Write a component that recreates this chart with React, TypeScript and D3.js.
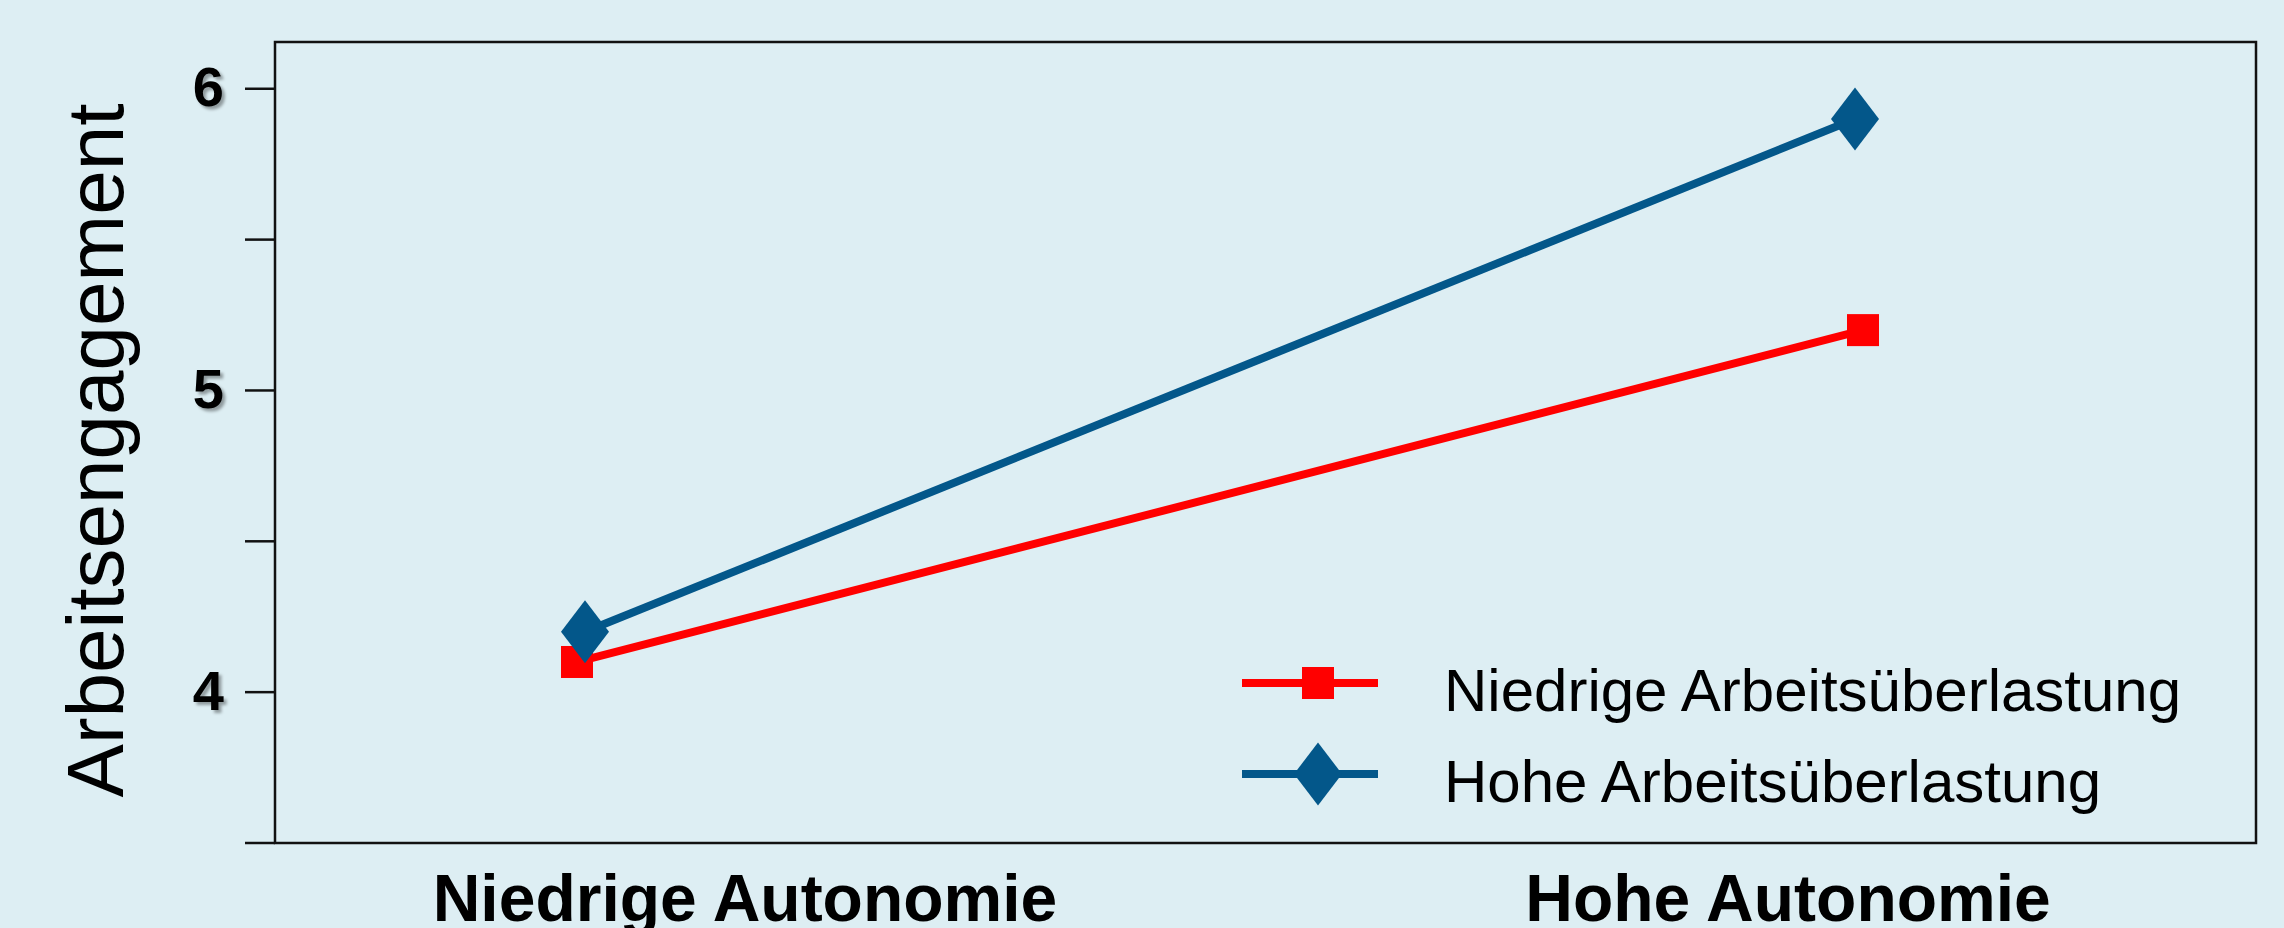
import React from 'react';
import * as d3 from 'd3';

// categories on the x axis and the two series
const categories = ['Niedrige Autonomie', 'Hohe Autonomie'];
const seriesNames = ['Niedrige Arbeitsüberlastung', 'Hohe Arbeitsüberlastung'];
const lowOverload = [4.1, 5.2];
const highOverload = [4.2, 5.9];
const yTicks = [3.5, 4, 4.5, 5, 5.5, 6];
const yTickLabels = ['', '4', '', '5', '', '6'];
const yTitle = 'Arbeitsengagement';

const W = 2284;
const H = 928;
const plot = { left: 275, top: 42, right: 2256, bottom: 843 };
const BG = '#ddeef3';
const RED = '#ff0000';
const BLUE = '#03578a';
const FONT = '"Liberation Sans", Arial, Helvetica, sans-serif';

const series = [
  { name: seriesNames[0], values: lowOverload, color: RED, marker: 'square', spread: 4 },
  { name: seriesNames[1], values: highOverload, color: BLUE, marker: 'diamond', spread: -4 },
];

const Marker: React.FC<{ kind: string; x: number; y: number; color: string }> = ({ kind, x, y, color }) => {
  if (kind === 'square') {
    return <rect x={x - 16} y={y - 16} width={32} height={32} fill={color} />;
  }
  const w = 24;
  const h = 31.5;
  return (
    <path
      d={`M${x},${y - h}L${x + w},${y}L${x},${y + h}L${x - w},${y}Z`}
      fill={color}
    />
  );
};

export default function App() {
  const y = d3.scaleLinear().domain([3.5, 6.155]).range([plot.bottom, plot.top]);
  // the points sit at ~15% / ~80% of the frame width
  const x = d3.scalePoint<string>().domain(categories).range([581, 1859]);
  // the category labels are centred a bit differently from the points
  const xLabel = d3.scalePoint<string>().domain(categories).range([745, 1788]);

  const line = d3
    .line<[number, number]>()
    .x((d) => d[0])
    .y((d) => d[1]);

  const legendX = 1318;
  const legendRows = [683, 774];

  return (
    <svg
      width={W}
      height={H}
      style={{ position: 'absolute', left: 0, top: 0, display: 'block' }}
      fontFamily={FONT}
    >
      <defs>
        <filter id="shadow" x="-30%" y="-30%" width="160%" height="160%">
          <feDropShadow dx={3} dy={3} stdDeviation={1.5} floodColor="#000" floodOpacity={0.35} />
        </filter>
      </defs>
      <rect width={W} height={H} fill={BG} />

      {/* frame */}
      <rect
        x={plot.left}
        y={plot.top}
        width={plot.right - plot.left}
        height={plot.bottom - plot.top}
        fill="none"
        stroke="#111"
        strokeWidth={2.5}
      />

      {/* y ticks and labels */}
      {yTicks.map((t, i) => (
        <g key={t}>
          <line x1={plot.left - 30} x2={plot.left} y1={y(t)} y2={y(t)} stroke="#111" strokeWidth={2.5} />
          {yTickLabels[i] && (
            <text
              x={224}
              y={y(t) - 2}
              textAnchor="end"
              dominantBaseline="central"
              fontSize={56}
              fontWeight="bold"
              fill="#000"
              filter="url(#shadow)"
            >
              {yTickLabels[i]}
            </text>
          )}
        </g>
      ))}

      {/* y title */}
      <text
        transform={`translate(123,${(plot.top + plot.bottom) / 2 + 8}) rotate(-90)`}
        textAnchor="middle"
        fontSize={80}
        fill="#000"
      >
        {yTitle}
      </text>

      {/* x category labels */}
      {categories.map((c) => (
        <text key={c} x={xLabel(c)} y={921} textAnchor="middle" fontSize={66} fontWeight="bold" fill="#000">
          {c}
        </text>
      ))}

      {/* series */}
      {series.map((s) => {
        const pts: [number, number][] = s.values.map((v, i) => [
          (x(categories[i]) as number) + (i === 0 ? -s.spread : s.spread),
          y(v),
        ]);
        return (
          <g key={s.name}>
            <path d={line(pts) || ''} fill="none" stroke={s.color} strokeWidth={8} />
            {pts.map((p, i) => (
              <Marker key={i} kind={s.marker} x={p[0]} y={p[1]} color={s.color} />
            ))}
          </g>
        );
      })}

      {/* legend */}
      {series.map((s, i) => (
        <g key={s.name}>
          <line
            x1={legendX - 76}
            x2={legendX + 60}
            y1={legendRows[i]}
            y2={legendRows[i]}
            stroke={s.color}
            strokeWidth={8}
          />
          <Marker kind={s.marker} x={legendX} y={legendRows[i]} color={s.color} />
          <text x={1444} y={legendRows[i] + 28} fontSize={60} fill="#000">
            {s.name}
          </text>
        </g>
      ))}
    </svg>
  );
}
